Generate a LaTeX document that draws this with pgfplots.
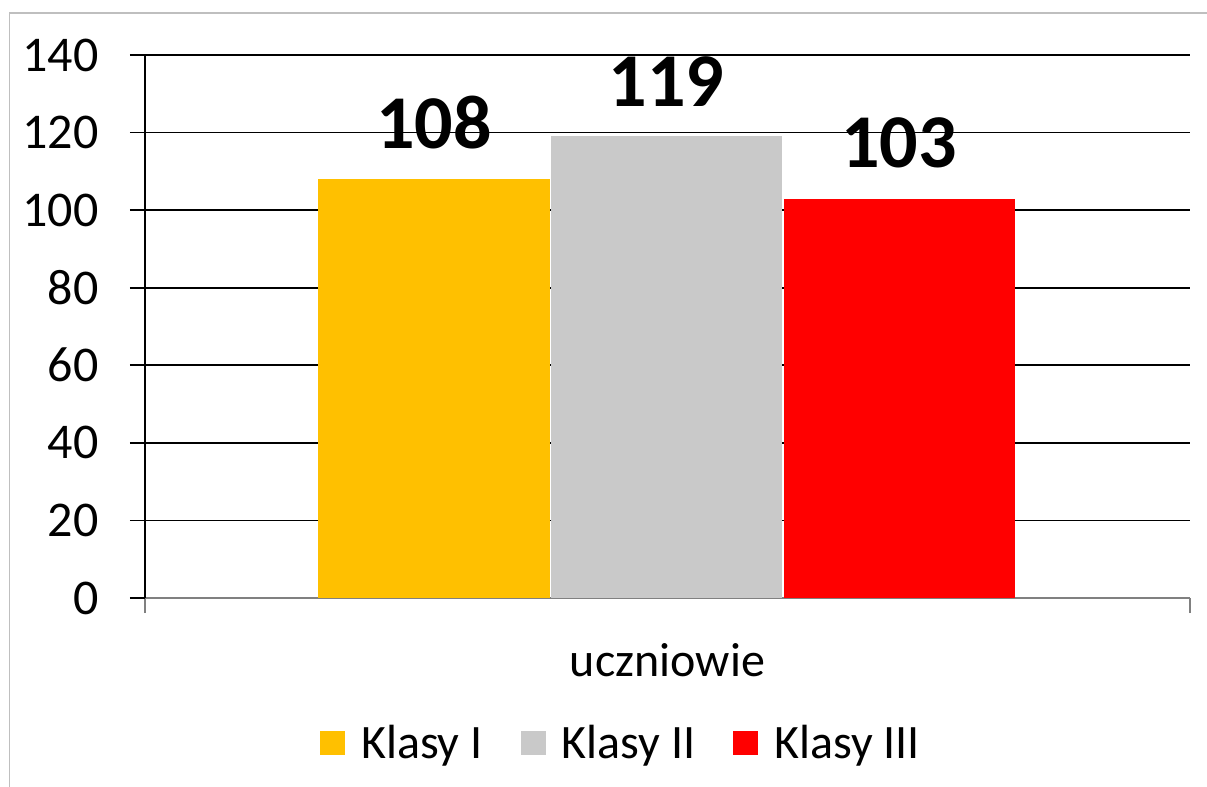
\documentclass[border=0pt]{standalone}
\usepackage{pgfplots}
\pgfplotsset{compat=1.18}
\usepackage{fontspec}
\setmainfont{Carlito}
\definecolor{cyellow}{HTML}{FFC000}
\definecolor{cgray}{HTML}{C9C9C9}
\definecolor{cred}{HTML}{FF0000}
\definecolor{axgray}{HTML}{808080}
\definecolor{framegray}{HTML}{BFBFBF}
\begin{document}
\begin{tikzpicture}
\useasboundingbox (0pt,0pt) rectangle (603.5pt,-393.5pt);
\draw[framegray,line width=0.6pt] (4.75pt,-393.5pt) -- (4.75pt,-6.5pt) -- (603.5pt,-6.5pt);
\begin{axis}[
  at={(72.5pt,-299pt)}, anchor=south west,
  scale only axis, width=522.5pt, height=271.5pt,
  xmin=145, xmax=1190, ymin=0, ymax=140,
  ytick={0,20,...,140},
  xtick={145,1190}, xticklabels={},
  axis x line*=bottom, axis y line*=left,
  x axis line style={axgray,line width=1pt,-},
  y axis line style={black,line width=0.8pt,-},
  tick align=outside, major tick length=7.5pt,
  xtick style={axgray,line width=1pt},
  ytick style={black,line width=0.8pt},
  ymajorgrids, grid style={black,line width=0.8pt},
  /pgf/number format/assume math mode=true,
  yticklabel style={font=\fontsize{25}{25}\selectfont, anchor=east, inner sep=0pt, xshift=-15.5pt},
  ybar, bar width=231, bar shift=0pt,
  nodes near coords,
  nodes near coords style={font=\fontsize{38}{38}\selectfont\bfseries, anchor=south, inner sep=0pt, yshift=15pt},
  xlabel={uczniowie},
  xlabel style={at={(axis description cs:0.5,-0.114)}, anchor=center, font=\fontsize{24}{24}\selectfont},
  legend style={at={(axis description cs:0.4565,-0.267)}, anchor=center, draw=none, fill=none,
    font=\fontsize{24}{24}\selectfont, legend columns=3,
    /tikz/every odd column/.append style={column sep=6pt},
    /tikz/every even column/.append style={column sep=17pt}},
  legend image code/.code={\fill[#1,draw=none] (0pt,-6pt) rectangle (12.5pt,6pt);},
]
\addplot[fill=cyellow,draw=none] coordinates {(434,108)};
\addplot[fill=cgray,draw=none] coordinates {(666.5,119)};
\addplot[fill=cred,draw=none] coordinates {(899,103)};
\legend{Klasy I,Klasy II,Klasy III}
\end{axis}
\end{tikzpicture}
\end{document}
